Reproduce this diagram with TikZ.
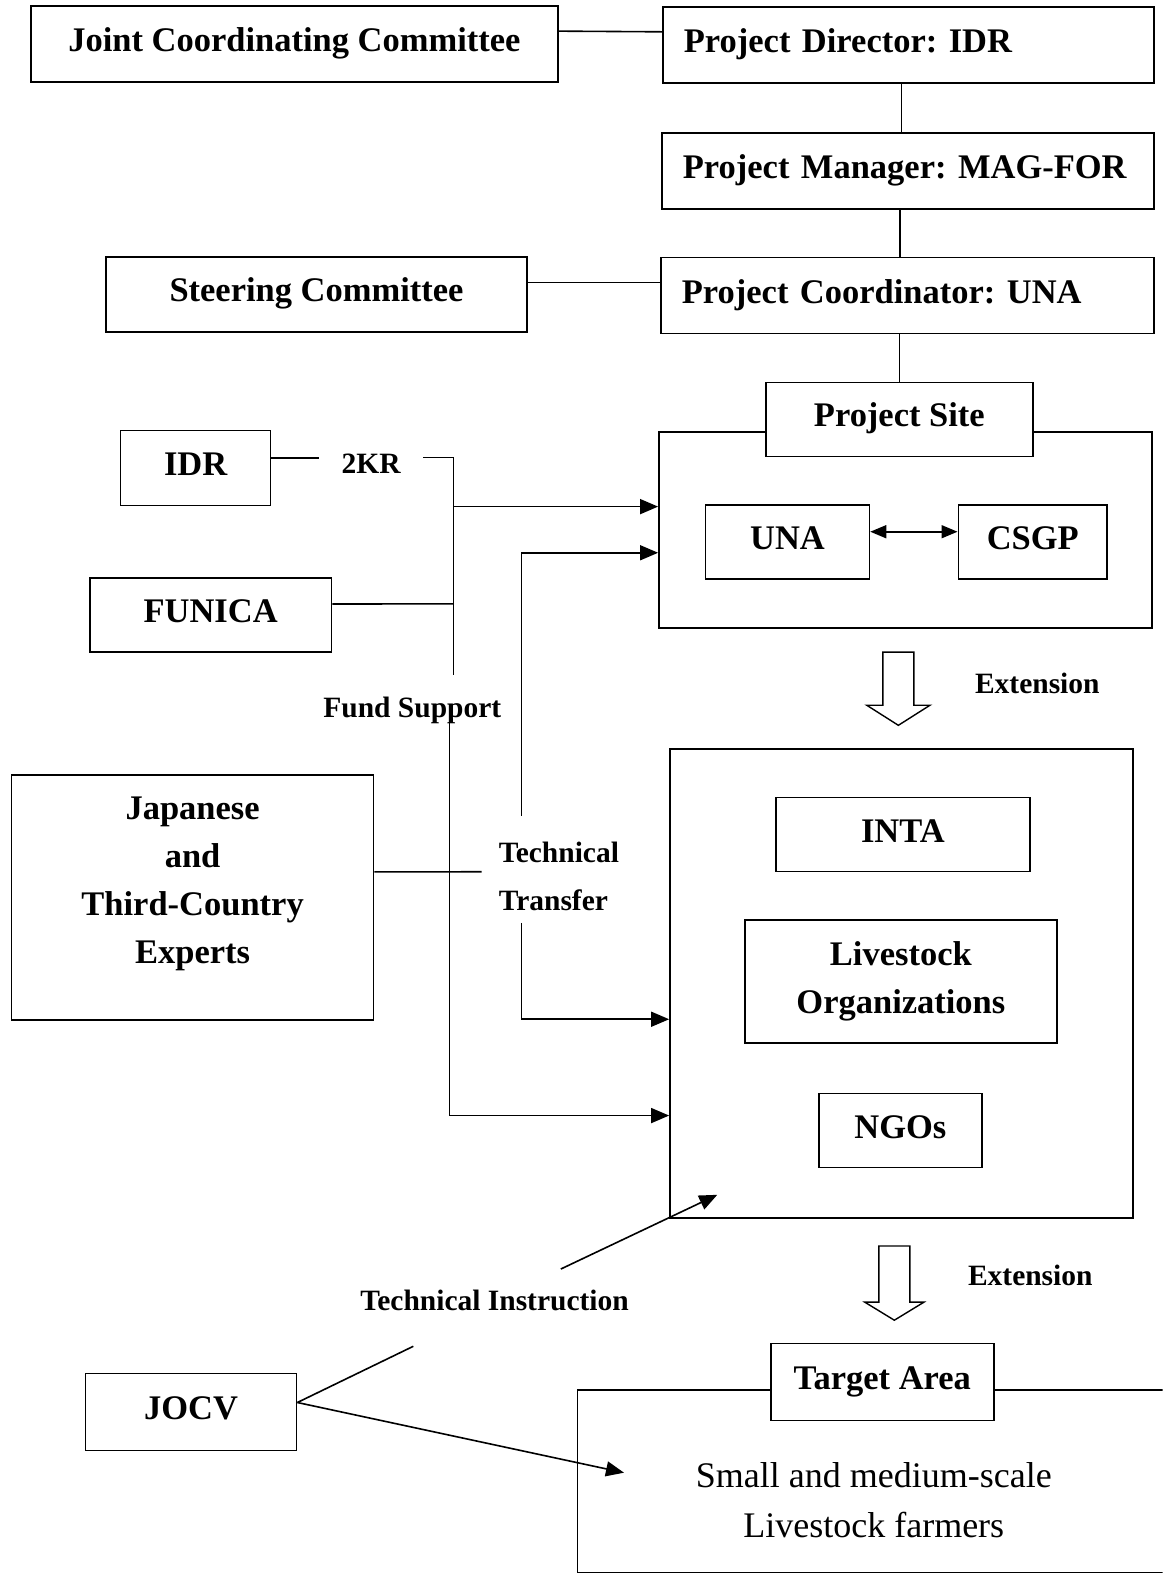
\documentclass[tikz,border=0pt]{standalone}
\usepackage{fontspec}
\setmainfont{Liberation Serif}
\usetikzlibrary{arrows.meta,calc}
\frenchspacing
\begin{document}
\begin{tikzpicture}[x=1.0035pt,y=-1.0035pt,
  box/.style={draw,line width=1.6pt,inner sep=0pt,font=\fontsize{34.5}{48}\selectfont\bfseries,align=center},
  sbox/.style={box,text height=23pt,text depth=8pt},
  lbox/.style={sbox,anchor=north west,align=left,inner xsep=21pt,minimum height=76pt},
  lbl/.style={font=\fontsize{29.5}{48}\selectfont\bfseries,inner sep=0pt},
  conn/.style={line width=1.6pt},
  arr/.style={conn,-{Triangle[length=18pt,width=15pt]}},
  hollow/.style={line width=1.4pt,fill=white,line join=miter}]
\useasboundingbox (0,0) rectangle (1159,1568);
\clip (0,0) rectangle (1159,1568);
% top boxes
\node[sbox,minimum width=527pt,minimum height=76pt] (jcc) at (293.5,44) {Joint Coordinating Committee};
\node[lbox,minimum width=491pt,text width=449pt] (pd) at (660,6) {Project Director: IDR};
\node[lbox,minimum width=492pt,text width=450pt] (pm) at (659,132) {Project Manager: MAG-FOR};
\node[lbox,minimum width=493pt,text width=451pt] (pc) at (658,256) {Project Coordinator: UNA};
\node[sbox,minimum width=421pt,minimum height=75pt] (sc) at (315.5,293.5) {Steering Committee};
% project site
\node[box,anchor=north west,minimum width=493pt,minimum height=196pt] (site) at (656,430) {};
\node[sbox,fill=white,minimum width=267pt,minimum height=74pt] (sitelbl) at (896.5,418) {Project Site};
\node[sbox,minimum width=164pt,minimum height=74pt] (una) at (785,540) {UNA};
\node[sbox,minimum width=149pt,minimum height=74pt] (csgp) at (1029.5,540) {CSGP};
% left boxes
\node[sbox,minimum width=150pt,minimum height=75pt] (idr) at (195,466.5) {IDR};
\node[sbox,minimum width=242pt,minimum height=74pt] (funica) at (210,613) {FUNICA};
\node[box,minimum width=362pt,minimum height=245pt] (jap) at (192,894.5) {};
\node[box,draw=none] (japtxt) at (192,881.5) {Japanese\\and\\Third-Country\\Experts};
% organizations
\node[box,anchor=north west,minimum width=463pt,minimum height=469pt] (org) at (667,746) {};
\node[sbox,minimum width=254pt,minimum height=74pt] (inta) at (900,832) {INTA};
\node[box,minimum width=312pt,minimum height=123pt] (livorg) at (898,978.5) {Livestock\\Organizations};
\node[sbox,minimum width=163pt,minimum height=74pt] (ngos) at (897.5,1127) {NGOs};
% bottom
\node[sbox,minimum width=211pt,minimum height=77pt] (jocv) at (190.5,1407.5) {JOCV};
\node[box,anchor=north west,minimum width=700pt,minimum height=183pt] (tgt) at (575,1385) {};
\node[sbox,fill=white,minimum width=223pt,minimum height=77pt] (tgtlbl) at (879.5,1377.5) {Target Area};
\node[font=\fontsize{36}{50}\selectfont,align=center,inner sep=0pt] (farmers) at (871,1495) {Small and medium-scale\\Livestock farmers};
% labels
\node[lbl,minimum width=104pt] (k2r) at (370,462) {2KR};
\node[lbl] (fund) at (411,708) {Fund Support};
\node[lbl,align=left,anchor=west] (tt) at (497,874) {Technical\\Transfer};
\node[lbl] (ext1) at (1034,681) {Extension};
\node[lbl] (ext2) at (1027,1271) {Extension};
\node[lbl] (ti) at (493,1296) {Technical Instruction};
% coordinates
\coordinate (fa) at (452,456);
\coordinate (fj) at (452,505);
\coordinate (ff) at (452,602);
\coordinate (fb) at (452,673);
\coordinate (fc) at (448,720);
\coordinate (fd) at (448,1112);
\coordinate (ta) at (520,813);
\coordinate (tb) at (520,551);
\coordinate (tc) at (520,920);
\coordinate (td) at (520,1016);
\coordinate (jx) at (480,869);
\coordinate (ti1) at (559,1265);
\coordinate (ti2) at (715,1191);
\coordinate (jo1) at (412,1342);
\coordinate (jo2) at (622,1468);
% connectors
\draw[conn] ([yshift=13pt]jcc.east) -- ([yshift=13pt]pd.west);
\draw[conn] ([xshift=-7pt]pd.south) -- ([xshift=-7pt]pd.south |- pm.north);
\draw[conn] ([xshift=-8pt]pm.south) -- ([xshift=-8pt]pm.south |- pc.north);
\draw[conn] ([yshift=12pt]sc.east) -- ([yshift=12pt]sc.east -| pc.west);
\draw[conn] (sitelbl.north |- pc.south) -- (sitelbl.north);
\draw[conn,{Triangle[length=16pt,width=13pt]}-{Triangle[length=16pt,width=13pt]}] ([yshift=10pt]una.east) -- ([yshift=10pt]csgp.west);
\draw[conn] ([yshift=10pt]idr.east) -- ([yshift=10pt]idr.east -| k2r.west);
\draw[conn] (k2r.east |- fa) -- (fa) -- (fb);
\draw[arr] (fj) -- (fj -| site.west);
\draw[conn] ([yshift=11pt]funica.east) -- (ff);
\draw[conn] (fc) -- (fd);
\draw[arr] (fd) -- (fd -| org.west);
\draw[arr] (ta) -- (tb) -- (tb -| site.west);
\draw[arr] (tc) -- (td) -- (td -| org.west);
\draw[conn] ([yshift=25.5pt]jap.east) -- (jx);
\draw[arr] (ti1) -- (ti2);
\draw[conn] ([yshift=9.5pt]jocv.east) -- (jo1);
\draw[arr] ([yshift=9.5pt]jocv.east) -- (jo2);
% hollow extension arrows
\draw[hollow] (880,650) -- (911,650) -- (911,703) -- (927,703) -- (895.5,723) -- (864,703) -- (880,703) -- cycle;
\draw[hollow] (876,1242) -- (907,1242) -- (907,1298) -- (921,1298) -- (891.5,1316) -- (862,1298) -- (876,1298) -- cycle;
\end{tikzpicture}
\end{document}
